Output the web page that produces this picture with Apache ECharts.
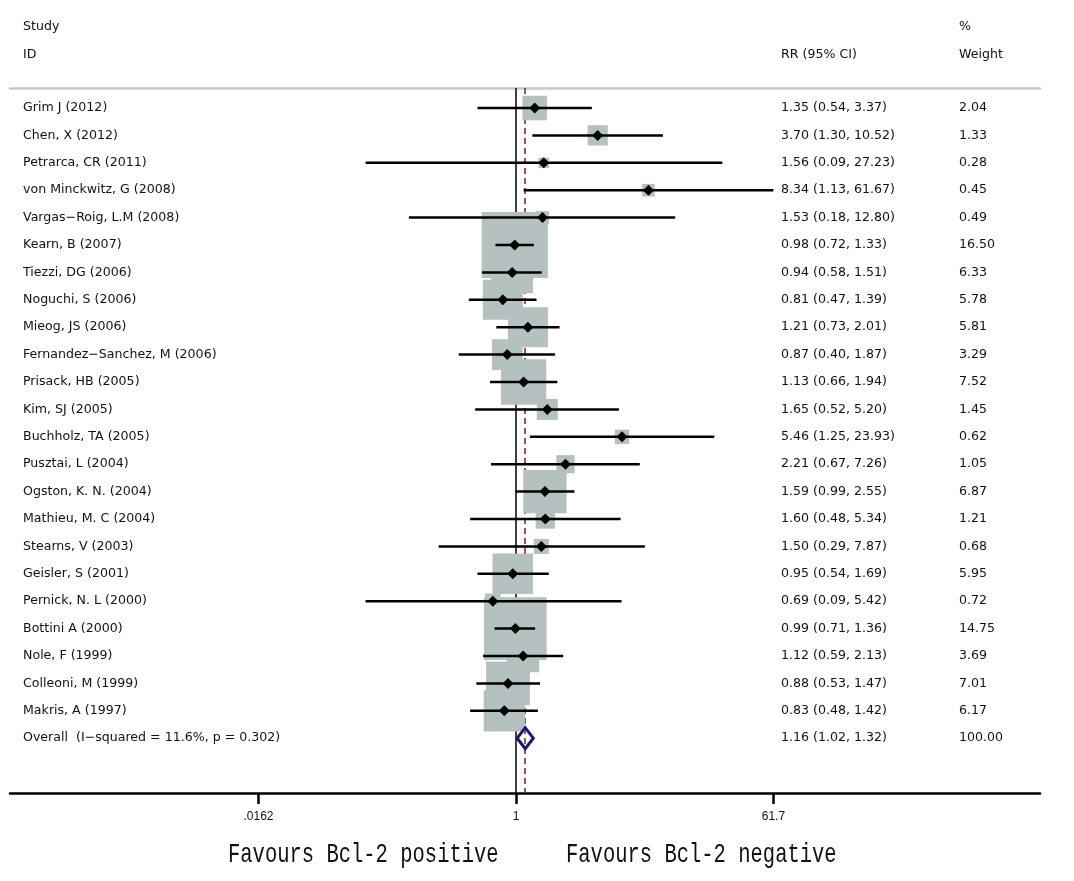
<!DOCTYPE html>
<html>
<head>
<meta charset="utf-8">
<script src="https://cdn.jsdelivr.net/npm/echarts@6/dist/echarts.min.js"></script>
<style>
html,body{margin:0;padding:0;background:#fff;}
#chart{width:1074px;height:881px;}
</style>
</head>
<body>
<div id="chart"></div>
<script>
var studies = ["Grim J (2012)","Chen, X (2012)","Petrarca, CR (2011)","von Minckwitz, G (2008)","Vargas\u2212Roig, L.M (2008)","Kearn, B (2007)","Tiezzi, DG (2006)","Noguchi, S (2006)","Mieog, JS (2006)","Fernandez\u2212Sanchez, M (2006)","Prisack, HB (2005)","Kim, SJ (2005)","Buchholz, TA (2005)","Pusztai, L (2004)","Ogston, K. N. (2004)","Mathieu, M. C (2004)","Stearns, V (2003)","Geisler, S (2001)","Pernick, N. L (2000)","Bottini A (2000)","Nole, F (1999)","Colleoni, M (1999)","Makris, A (1997)"];
var rr     = [1.35,3.70,1.56,8.34,1.53,0.98,0.94,0.81,1.21,0.87,1.13,1.65,5.46,2.21,1.59,1.60,1.50,0.95,0.69,0.99,1.12,0.88,0.83];
var lower  = [0.54,1.30,0.09,1.13,0.18,0.72,0.58,0.47,0.73,0.40,0.66,0.52,1.25,0.67,0.99,0.48,0.29,0.54,0.09,0.71,0.59,0.53,0.48];
var upper  = [3.37,10.52,27.23,61.67,12.80,1.33,1.51,1.39,2.01,1.87,1.94,5.20,23.93,7.26,2.55,5.34,7.87,1.69,5.42,1.36,2.13,1.47,1.42];
var weight = [2.04,1.33,0.28,0.45,0.49,16.50,6.33,5.78,5.81,3.29,7.52,1.45,0.62,1.05,6.87,1.21,0.68,5.95,0.72,14.75,3.69,7.01,6.17];
var overallLabel = "Overall  (I\u2212squared = 11.6%, p = 0.302)";
var overall = {rr:1.16, lower:1.02, upper:1.32, weight:"100.00"};
var tickValues = [0.0162, 1, 61.7];
var tickLabels = [".0162", "1", "61.7"];
var xMin = 0.000303, xMax = 4406;

var L = Math.log10;
function fmt(v){ return v.toFixed(2); }

var studyData = studies.map(function(s,i){ return [L(lower[i]), L(rr[i]), L(upper[i]), i, weight[i]]; });
var overallData = [[L(overall.lower), L(overall.rr), L(overall.upper), studies.length]];

var font = "'DejaVu Sans', sans-serif";
var fsz = '12.6px ';
var txtColor = '#111';
var boxColor = '#b5c0c0';

function rowText(x, y, text){
  return {type:'text', style:{x:x, y:y, text:text, fill:txtColor, font:fsz + font, textVerticalAlign:'middle', textAlign:'left'}};
}

var chart = echarts.init(document.getElementById('chart'));
chart.setOption({
  backgroundColor:'#fff',
  animation:false,
  grid:{left:10, right:34, top:88, bottom:88},
  xAxis:[{
    type:'value', min:L(xMin), max:L(xMax), position:'bottom',
    axisLine:{show:true, onZero:false, lineStyle:{color:'#000', width:2.5}},
    axisTick:{show:true, length:11, lineStyle:{color:'#000', width:2.5}, customValues:tickValues.map(L)},
    axisLabel:{show:true, customValues:tickValues.map(L), margin:18, fontSize:12, fontFamily:"'Liberation Sans', sans-serif", color:'#111',
      formatter:function(v){ for (var i=0;i<tickValues.length;i++){ if (Math.abs(L(tickValues[i])-v)<1e-6) return tickLabels[i]; } return ''; }},
    splitLine:{show:false}
  },{
    type:'value', min:L(xMin), max:L(xMax), position:'top',
    axisLine:{show:true, onZero:false, lineStyle:{color:'#c3cbcb', width:2.5}},
    axisTick:{show:false}, axisLabel:{show:false}, splitLine:{show:false}
  }],
  yAxis:{type:'value', inverse:true, min:-0.73, max:25.0, show:false},
  series:[
    {
      type:'line', data:[], z:1, silent:true,
      markLine:{
        z:1, symbol:'none', silent:true, label:{show:false},
        data:[
          {xAxis:0, lineStyle:{color:'#000', width:1.5, type:'solid'}},
          {xAxis:L(overall.rr), lineStyle:{color:'#7a1f1f', width:1.5, type:[6,4]}}
        ]
      }
    },
    {
      type:'custom', z:3, data:studyData,
      encode:{x:[0,1,2], y:3},
      renderItem:function(params, api){
        var lo = api.coord([api.value(0), api.value(3)]);
        var est = api.coord([api.value(1), api.value(3)]);
        var hi = api.coord([api.value(2), api.value(3)]);
        var w = api.value(4);
        var s = 15.8*Math.sqrt(w) + 2;
        var y = est[1];
        var i = params.dataIndex;
        return {type:'group', children:[
          {type:'rect', shape:{x:est[0]-s/2, y:y-s/2, width:s, height:s}, style:{fill:boxColor}, z2:1},
          {type:'line', shape:{x1:lo[0], y1:y, x2:hi[0], y2:y}, style:{stroke:'#000', lineWidth:2.5}, z2:2},
          {type:'polygon', shape:{points:[[est[0]-5.5,y],[est[0],y-5.5],[est[0]+5.5,y],[est[0],y+5.5]]}, style:{fill:'#000'}, z2:3},
          rowText(23, y, studies[i]),
          rowText(781, y, fmt(rr[i]) + ' (' + fmt(lower[i]) + ', ' + fmt(upper[i]) + ')'),
          rowText(959, y, fmt(weight[i]))
        ]};
      }
    },
    {
      type:'custom', z:4, data:overallData,
      encode:{x:[0,1,2], y:3},
      renderItem:function(params, api){
        var lo = api.coord([api.value(0), api.value(3)]);
        var est = api.coord([api.value(1), api.value(3)]);
        var hi = api.coord([api.value(2), api.value(3)]);
        var y = est[1], h = 10.5;
        return {type:'group', children:[
          {type:'polygon', shape:{points:[[lo[0],y],[est[0],y-h],[hi[0],y],[est[0],y+h]]}, style:{fill:'rgba(255,255,255,0)', stroke:'#1b1b6b', lineWidth:3}},
          rowText(23, y, overallLabel),
          rowText(781, y, fmt(overall.rr) + ' (' + fmt(overall.lower) + ', ' + fmt(overall.upper) + ')'),
          rowText(959, y, overall.weight)
        ]};
      }
    }
  ],
  graphic:[
    {type:'text', x:23, y:27, style:{text:'Study', fill:txtColor, font:fsz + font, textVerticalAlign:'middle'}},
    {type:'text', x:23, y:55, style:{text:'ID', fill:txtColor, font:fsz + font, textVerticalAlign:'middle'}},
    {type:'text', x:959, y:27, style:{text:'%', fill:txtColor, font:fsz + font, textVerticalAlign:'middle'}},
    {type:'text', x:959, y:55, style:{text:'Weight', fill:txtColor, font:fsz + font, textVerticalAlign:'middle'}},
    {type:'text', x:781, y:55, style:{text:'RR (95% CI)', fill:txtColor, font:fsz + font, textVerticalAlign:'middle'}},
    {type:'text', x:228, y:855, scaleY:1.35, style:{text:'Favours Bcl-2 positive', fill:'#111', font:"20.5px 'Liberation Mono', monospace", textVerticalAlign:'middle'}},
    {type:'text', x:566, y:855, scaleY:1.35, style:{text:'Favours Bcl-2 negative', fill:'#111', font:"20.5px 'Liberation Mono', monospace", textVerticalAlign:'middle'}}
  ]
});
</script>
</body>
</html>
